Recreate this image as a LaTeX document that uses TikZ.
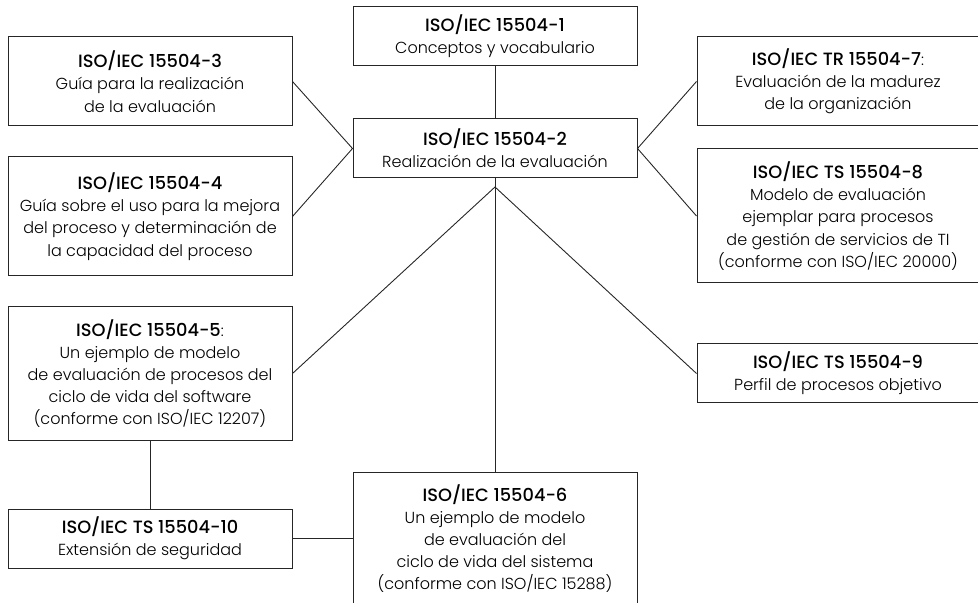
\documentclass[tikz,border=0pt]{standalone}
\usepackage{fontspec}
\setmainfont{Poppins}[UprightFont=* Light, BoldFont=* Medium]
\newcommand*{\std}[1]{{\fontsize{8.9}{11.1}\selectfont\bfseries #1}}
\begin{document}
\begin{tikzpicture}[x=.5pt, y=-.5pt, font=\fontsize{8}{11.1}\selectfont,
        doc/.style={draw=black!85, line width=.5pt, minimum width=142pt, inner sep=0pt, align=center},
        link/.style={draw=black!85, line width=.45pt}]
        \useasboundingbox(0, 0)rectangle(978, 603);
        % centre column
        \node[doc, minimum height=29.5pt](p1)at(495, 36.5){\std{ISO/IEC 15504-1}\\Conceptos y vocabulario};
        \node[doc, minimum height=29.5pt](p2)at(495, 148.5){\std{ISO/IEC 15504-2}\\Realización de la evaluación};
        \node[doc, minimum height=66.5pt](p6)at(495, 538.5){\std{ISO/IEC 15504-6}\\Un ejemplo de modelo\\de evaluación del\\ciclo de vida del sistema\\(conforme con ISO/IEC 15288)};
        % left column
        \node[doc, minimum height=44.5pt](p3)at(150, 81.5){\std{ISO/IEC 15504-3}\\Guía para la realización\\de la evaluación};
        \node[doc, minimum height=59.5pt](p4)at(150, 216.5){\std{ISO/IEC 15504-4}\\Guía sobre el uso para la mejora\\del proceso y determinación de\\la capacidad del proceso};
        \node[doc, minimum height=66.5pt](p5)at(150, 373.5){\std{ISO/IEC 15504-5}:\\Un ejemplo de modelo\\de evaluación de procesos del\\ciclo de vida del software\\(conforme con ISO/IEC 12207)};
        \node[doc, minimum height=29.5pt](p10)at(150, 538.5){\std{ISO/IEC TS 15504-10}\\Extensión de seguridad};
        % right column
        \node[doc, minimum width=141pt, minimum height=44.5pt](p7)at(838, 81.5){\std{ISO/IEC TR 15504-7}:\\Evaluación de la madurez\\de la organización};
        \node[doc, minimum width=141pt, minimum height=67pt](p8)at(838, 216){\std{ISO/IEC TS 15504-8}\\Modelo de evaluación\\ejemplar para procesos\\de gestión de servicios de TI\\(conforme con ISO/IEC 20000)};
        \node[doc, minimum width=141pt, minimum height=29.5pt](p9)at(838, 373.5){\std{ISO/IEC TS 15504-9}\\Perfil de procesos objetivo};
        \coordinate(split)at(495, 187);
        \draw[link](p1)--(p2);
        \draw[link](p3.east)--(p2.west)--(p4.east);
        \draw[link](p7.west)--(p2.east)--(p8.west);
        \draw[link](p2)--(p6);
        \draw[link](p5.east)--(split)--(p9.west);
        \draw[link](p5)--(p10)--(p6);
    \end{tikzpicture}
\end{document}
